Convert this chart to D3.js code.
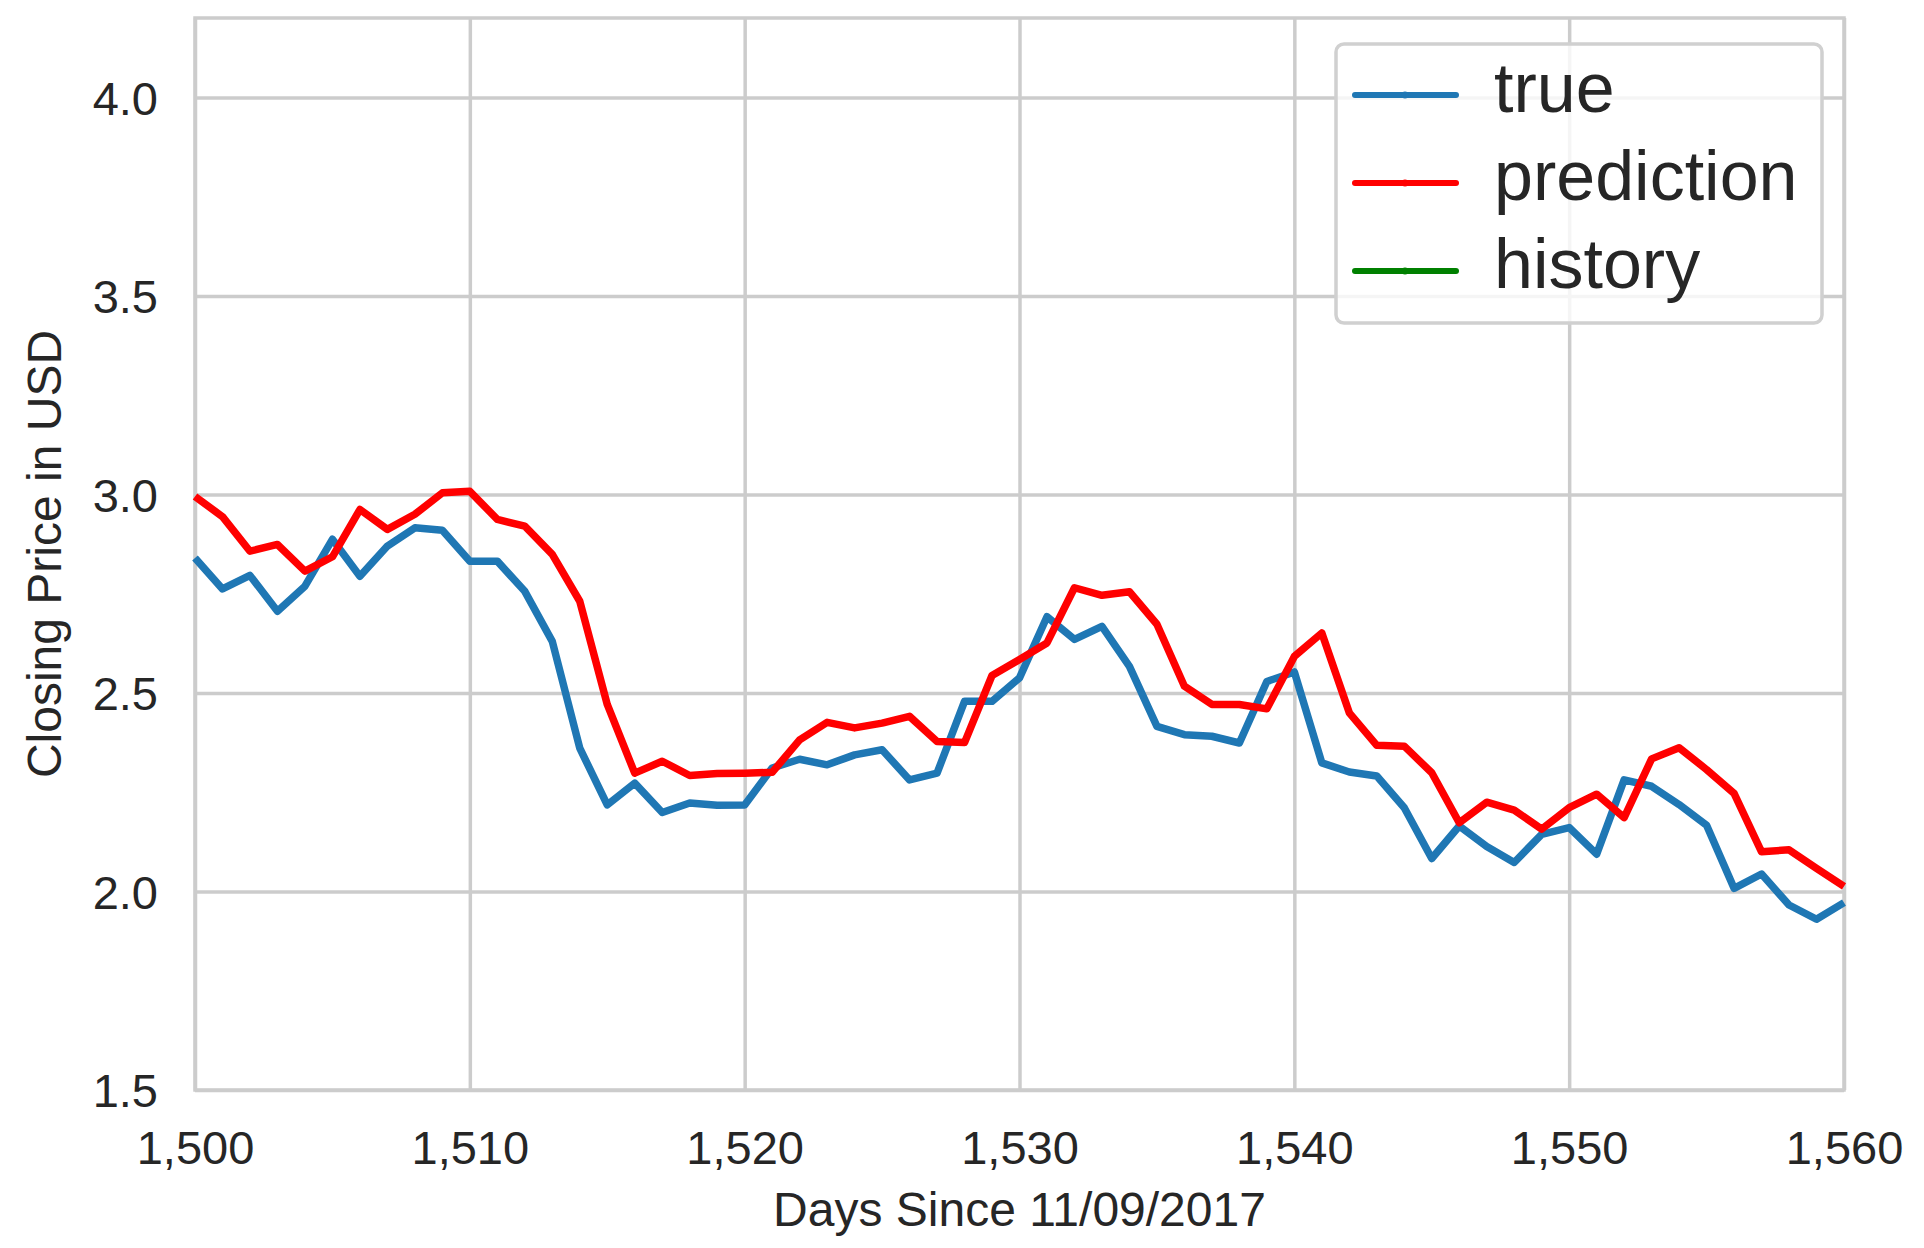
<!DOCTYPE html>
<html>
<head>
<meta charset="utf-8">
<script src="https://cdn.jsdelivr.net/npm/d3@7"></script>
<style>
  html, body { margin: 0; padding: 0; background: #ffffff; }
  svg { display: block; }
  text { font-family: "Liberation Sans", Arial, sans-serif; fill: #262626; }
</style>
</head>
<body>
<svg id="chart" width="1924" height="1248"></svg>
<script>
// ---- data ----
const startDay = 1500;
const trueVals = [2.840, 2.762, 2.796, 2.706, 2.769, 2.887, 2.794, 2.870, 2.916, 2.910,
  2.832, 2.832, 2.756, 2.630, 2.361, 2.218, 2.273, 2.199, 2.223, 2.217,
  2.218, 2.311, 2.333, 2.319, 2.344, 2.357, 2.281, 2.298, 2.479, 2.479,
  2.538, 2.692, 2.635, 2.668, 2.567, 2.416, 2.395, 2.391, 2.374, 2.529,
  2.553, 2.324, 2.301, 2.291, 2.211, 2.083, 2.165, 2.113, 2.073, 2.144,
  2.161, 2.094, 2.281, 2.265, 2.219, 2.167, 2.008, 2.044, 1.966, 1.930,
  1.972];
const predVals = [2.995, 2.944, 2.857, 2.874, 2.807, 2.843, 2.962, 2.912, 2.950, 3.004,
  3.008, 2.937, 2.920, 2.849, 2.731, 2.471, 2.298, 2.328, 2.292, 2.297,
  2.298, 2.300, 2.382, 2.426, 2.412, 2.424, 2.441, 2.378, 2.375, 2.544,
  2.584, 2.626, 2.765, 2.746, 2.755, 2.673, 2.517, 2.471, 2.471, 2.460,
  2.592, 2.651, 2.450, 2.368, 2.366, 2.299, 2.173, 2.225, 2.205, 2.157,
  2.211, 2.245, 2.186, 2.334, 2.362, 2.307, 2.247, 2.100, 2.105, 2.058,
  2.013];
const historyVals = []; // no history points fall in the displayed window
const seriesNames = ["true", "prediction", "history"];
const seriesColors = ["#1f77b4", "#ff0000", "#008000"];
const xTicks = [1500, 1510, 1520, 1530, 1540, 1550, 1560];
const yTicks = [1.5, 2.0, 2.5, 3.0, 3.5, 4.0];
const xDomain = [1500, 1560];
const yDomain = [1.5, 4.2];
const xLabel = "Days Since 11/09/2017";
const yLabel = "Closing Price in USD";

// ---- layout ----
const L = 195, R = 1844, T = 18, B = 1090;
const svg = d3.select("#chart");
svg.append("rect").attr("width", 1924).attr("height", 1248).attr("fill", "#fff");

const x = d3.scaleLinear().domain(xDomain).range([L, R]);
const y = d3.scaleLinear().domain(yDomain).range([B, T]);

const gridColor = "#cccccc";
const gridW = 3.5;

// grid
const gx = svg.append("g")
  .attr("transform", `translate(0,${B})`)
  .call(d3.axisBottom(x).tickValues(xTicks).tickSize(-(B - T)).tickFormat(d3.format(",")));
gx.select(".domain").remove();
gx.selectAll(".tick line").attr("stroke", gridColor).attr("stroke-width", gridW);
gx.selectAll(".tick text")
  .attr("y", 41).attr("dy", "0.71em")
  .style("font-size", "47px").attr("fill", "#262626");

const gy = svg.append("g")
  .attr("transform", `translate(${L},0)`)
  .call(d3.axisLeft(y).tickValues(yTicks).tickSize(-(R - L)).tickFormat(d3.format(".1f")));
gy.select(".domain").remove();
gy.selectAll(".tick line").attr("stroke", gridColor).attr("stroke-width", gridW);
gy.selectAll(".tick text")
  .attr("x", -37).attr("dy", "0.36em")
  .style("font-size", "47px").attr("fill", "#262626");

// frame
svg.append("rect")
  .attr("x", L).attr("y", T).attr("width", R - L).attr("height", B - T)
  .attr("fill", "none").attr("stroke", gridColor).attr("stroke-width", gridW);

// lines
const allSeries = [trueVals, predVals, historyVals];
const line = d3.line().x((d, i) => x(startDay + i)).y(d => y(d));
const plot = svg.append("g");
allSeries.forEach((vals, k) => {
  plot.append("path")
    .datum(vals)
    .attr("d", vals.length ? line(vals) : null)
    .attr("fill", "none")
    .attr("stroke", seriesColors[k])
    .attr("stroke-width", 7.5)
    .attr("stroke-linejoin", "round")
    .attr("stroke-linecap", "butt");
});

// legend
const lg = svg.append("g");
lg.append("rect")
  .attr("x", 1336).attr("y", 44).attr("width", 486).attr("height", 279)
  .attr("rx", 8).attr("ry", 8)
  .attr("fill", "rgba(255,255,255,0.8)")
  .attr("stroke", "#d0d0d0").attr("stroke-width", 3.5);
seriesNames.forEach((name, k) => {
  const cy = 95 + k * 88;
  lg.append("line")
    .attr("x1", 1355).attr("x2", 1456).attr("y1", cy).attr("y2", cy)
    .attr("stroke", seriesColors[k]).attr("stroke-width", 6)
    .attr("stroke-linecap", "round");
  lg.append("circle").attr("cx", 1405).attr("cy", cy).attr("r", 3.5)
    .attr("fill", seriesColors[k]);
  lg.append("text")
    .attr("x", 1494).attr("y", cy).attr("dy", "0.24em")
    .style("font-size", "70px")
    .text(name);
});

// axis labels
svg.append("text")
  .attr("x", (L + R) / 2).attr("y", 1226)
  .attr("text-anchor", "middle")
  .style("font-size", "48px")
  .text(xLabel);
svg.append("text")
  .attr("transform", `translate(61,${(T + B) / 2}) rotate(-90)`)
  .attr("text-anchor", "middle")
  .style("font-size", "48px")
  .text(yLabel);
</script>
</body>
</html>
